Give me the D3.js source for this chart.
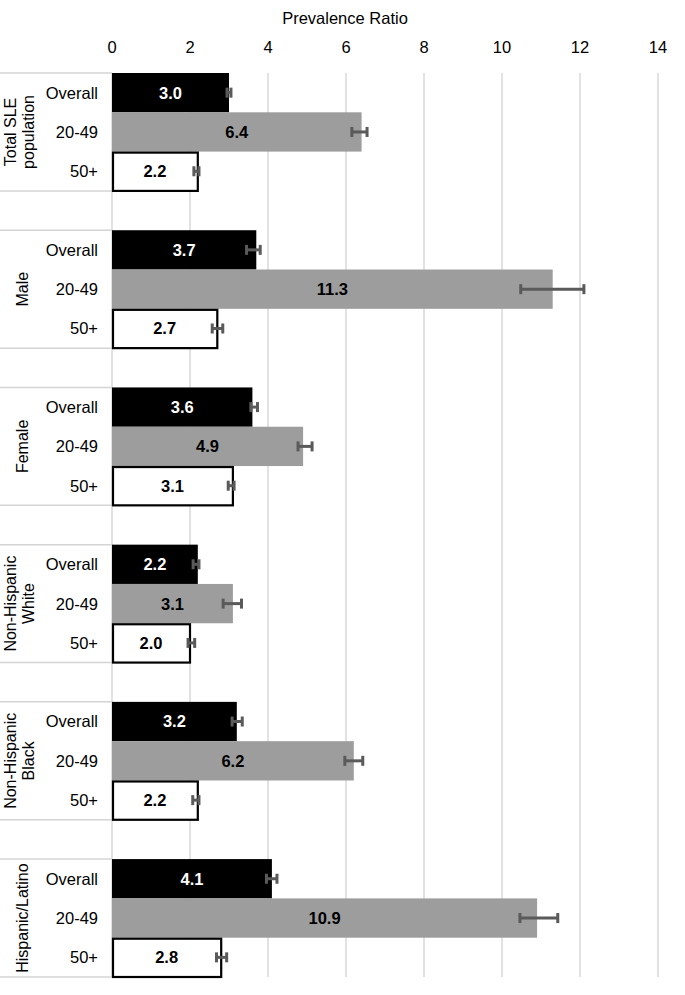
<!DOCTYPE html>
<html>
<head>
<meta charset="utf-8">
<script src="https://cdn.jsdelivr.net/npm/d3@7/dist/d3.min.js"></script>
<style>
  html, body { margin: 0; padding: 0; background: #fff; }
  svg { display: block; font-family: "Liberation Sans", Arial, sans-serif; }
</style>
</head>
<body>
<svg id="chart" width="685" height="995"></svg>
<script>
// ---- Data ----
const groups = ["Total SLE\npopulation", "Male", "Female", "Non-Hispanic\nWhite", "Non-Hispanic\nBlack", "Hispanic/Latino"];
const subgroups = ["Overall", "20-49", "50+"];
const overallValues = [3.0, 3.7, 3.6, 2.2, 3.2, 4.1];
const age2049Values = [6.4, 11.3, 4.9, 3.1, 6.2, 10.9];
const age50Values = [2.2, 2.7, 3.1, 2.0, 2.2, 2.8];
const overallLow = [2.95, 3.45, 3.56, 2.08, 3.08, 3.96];
const overallHigh = [3.05, 3.80, 3.73, 2.23, 3.34, 4.23];
const age2049Low = [6.15, 10.48, 4.77, 2.85, 5.97, 10.46];
const age2049High = [6.54, 12.10, 5.13, 3.32, 6.43, 11.43];
const age50Low = [2.10, 2.57, 2.98, 1.95, 2.07, 2.68];
const age50High = [2.23, 2.84, 3.13, 2.12, 2.23, 2.94];
const xTicks = [0, 2, 4, 6, 8, 10, 12, 14];
const axisTitle = "Prevalence Ratio";

// ---- Build rows ----
const seriesValues = [overallValues, age2049Values, age50Values];
const seriesLow = [overallLow, age2049Low, age50Low];
const seriesHigh = [overallHigh, age2049High, age50High];
const fills = ["#000000", "#9d9d9d", "#ffffff"];
const textColors = ["#ffffff", "#000000", "#000000"];

const rows = [];
const slotKeys = [];
groups.forEach((g, gi) => {
  subgroups.forEach((s, si) => {
    const key = gi + "|" + si;
    slotKeys.push(key);
    rows.push({key, gi, si, sub: s, value: seriesValues[si][gi], lo: seriesLow[si][gi], hi: seriesHigh[si][gi]});
  });
  if (gi < groups.length - 1) slotKeys.push("blank" + gi);
});

const svg = d3.select("#chart");
const x = d3.scaleLinear().domain([0, 14]).range([112, 658]);
const y = d3.scaleBand().domain(slotKeys).range([73, 977]).padding(0);
const bw = y.bandwidth();

// gridlines
svg.append("g").selectAll("line").data(xTicks).join("line")
  .attr("x1", d => x(d)).attr("x2", d => x(d))
  .attr("y1", 73).attr("y2", 977)
  .attr("stroke", "#d9d9d9").attr("stroke-width", 1.5);

// tick labels
svg.append("g").selectAll("text").data(xTicks).join("text")
  .attr("x", d => x(d)).attr("y", 53)
  .attr("text-anchor", "middle")
  .attr("font-size", 16.5).attr("fill", "#000")
  .text(d => d);

// axis title
svg.append("text").attr("x", 345).attr("y", 24)
  .attr("text-anchor", "middle").attr("font-size", 16.5).attr("fill", "#000")
  .text(axisTitle);

// label-area separator lines
const sepYs = [];
groups.forEach((g, gi) => {
  sepYs.push(y(gi + "|0"));
  sepYs.push(y(gi + "|2") + bw);
});
svg.append("g").selectAll("line").data(sepYs).join("line")
  .attr("x1", 0).attr("x2", 112)
  .attr("y1", d => d).attr("y2", d => d)
  .attr("stroke", "#d4d4d4").attr("stroke-width", 1.5);

// bars
const barG = svg.append("g");
barG.selectAll("rect").data(rows).join("rect")
  .attr("x", d => d.si === 2 ? x(0) + 1 : x(0))
  .attr("y", d => d.si === 2 ? y(d.key) + 1 : y(d.key))
  .attr("width", d => d.si === 2 ? x(d.value) - x(0) - 1 : x(d.value) - x(0))
  .attr("height", d => d.si === 2 ? bw - 1 : bw)
  .attr("fill", d => fills[d.si])
  .attr("stroke", d => d.si === 2 ? "#000" : "none")
  .attr("stroke-width", 2.2);

// error bars
const errG = svg.append("g").attr("stroke", "#5a5a5a");
rows.forEach(d => {
  const cy = y(d.key) + bw / 2;
  errG.append("line").attr("x1", x(d.lo)).attr("x2", x(d.hi)).attr("y1", cy).attr("y2", cy).attr("stroke-width", 3);
  [d.lo, d.hi].forEach(v => {
    errG.append("line").attr("x1", x(v)).attr("x2", x(v)).attr("y1", cy - 5).attr("y2", cy + 5).attr("stroke-width", 3);
  });
});

// value labels
svg.append("g").selectAll("text").data(rows).join("text")
  .attr("x", d => (x(0) + x(d.value)) / 2)
  .attr("y", d => y(d.key) + bw / 2)
  .attr("dy", "0.36em")
  .attr("text-anchor", "middle")
  .attr("font-size", 16.5).attr("font-weight", "bold")
  .attr("fill", d => textColors[d.si])
  .text(d => d3.format(".1f")(d.value));

// subgroup labels
svg.append("g").selectAll("text").data(rows).join("text")
  .attr("x", 98)
  .attr("y", d => y(d.key) + bw / 2)
  .attr("dy", "0.36em")
  .attr("text-anchor", "end")
  .attr("font-size", 16.5).attr("fill", "#000")
  .text(d => d.sub);

// group labels (rotated)
groups.forEach((g, gi) => {
  const lines = g.split("\n");
  const cy = (y(gi + "|0") + y(gi + "|2") + bw) / 2;
  const bx = lines.length === 1 ? 28 : 16;
  const t = svg.append("text")
    .attr("transform", `translate(${bx},${cy}) rotate(-90)`)
    .attr("text-anchor", "middle")
    .attr("font-size", 16).attr("fill", "#000");
  lines.forEach((ln, li) => {
    t.append("tspan").attr("x", 0).attr("y", li * 17.5).text(ln);
  });
});
</script>
</body>
</html>
